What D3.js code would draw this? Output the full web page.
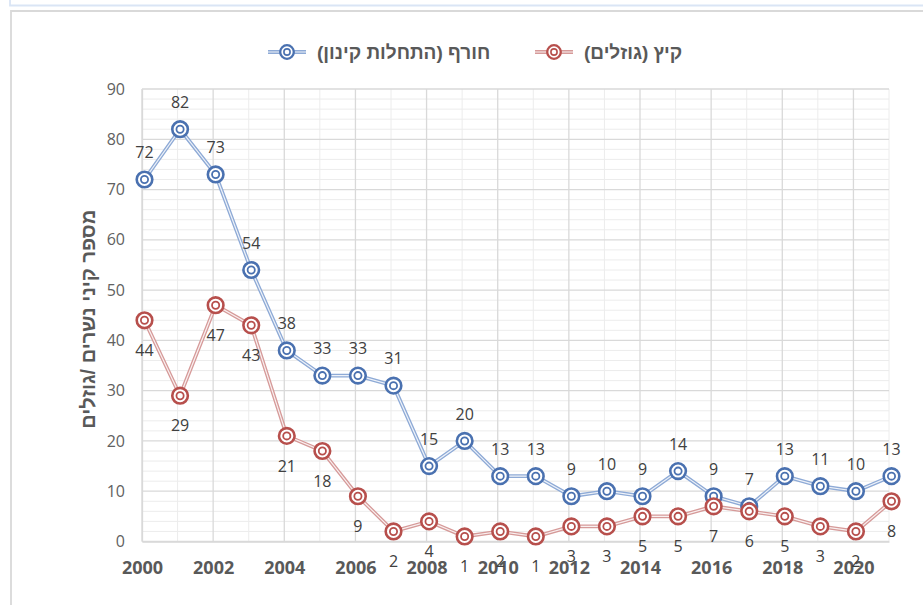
<!DOCTYPE html>
<html>
<head>
<meta charset="utf-8">
<script src="https://cdn.jsdelivr.net/npm/d3@7"></script>
<style>
  body { margin: 0; background: #fff; }
  svg { display: block; }
</style>
</head>
<body>
<div class="container"></div>
<script>
    // years on the x axis
    const years = [2000, 2001, 2002, 2003, 2004, 2005, 2006, 2007, 2008, 2009, 2010,
        2011, 2012, 2013, 2014, 2015, 2016, 2017, 2018, 2019, 2020, 2021]
    // winter (nesting starts)
    const winter = [72, 82, 73, 54, 38, 33, 33, 31, 15, 20, 13, 13, 9, 10, 9, 14, 9, 7, 13, 11, 10, 13]
    // summer (chicks)
    const summer = [44, 29, 47, 43, 21, 18, 9, 2, 4, 1, 2, 1, 3, 3, 5, 5, 7, 6, 5, 3, 2, 8]
    const yTicks = [0, 10, 20, 30, 40, 50, 60, 70, 80, 90]
    const xTicks = [2000, 2002, 2004, 2006, 2008, 2010, 2012, 2014, 2016, 2018, 2020]
    const winterName = "חורף (התחלות קינון)"
    const summerName = "קיץ (גוזלים)"
    const yTitle = "מספר קיני נשרים /גוזלים"

    const width = 923
    const height = 605
    const plot = { left: 142, right: 889, top: 89, bottom: 541.5 }

    const numFont = "'Open Sans', 'DejaVu Sans', sans-serif"
    const hebFont = "'Liberation Sans', 'DejaVu Sans', sans-serif"

    const blue = { ring: "#4a71b0", line: "#8eaad6" }
    const red = { ring: "#b74f4c", line: "#d69a99" }

    let svg = d3.select(".container")
        .append("svg")
        .attr("width", width)
        .attr("height", height)
        .attr("viewBox", [0, 0, width, height])

    // frame bits at the top of the screenshot
    svg.append("path")
        .attr("d", "M10,0 V5.5 H923")
        .attr("fill", "none")
        .attr("stroke", "#dae5f5")
        .attr("stroke-width", 1.8)
    svg.append("path")
        .attr("d", "M11,605 V11 H923")
        .attr("fill", "none")
        .attr("stroke", "#d9d9d9")
        .attr("stroke-width", 1.8)

    let x = d3.scaleLinear()
        .domain([2000, 2021])
        .range([plot.left, plot.right])

    let y = d3.scaleLinear()
        .domain([0, 90])
        .range([plot.bottom, plot.top])

    // grid: minor every 2 units / every odd year, major every 10 / even year
    let grid = svg.append("g")
    grid.selectAll(".hminor")
        .data(d3.range(0, 91, 2).filter(v => v % 10 !== 0))
        .enter().append("line")
        .attr("x1", plot.left).attr("x2", plot.right)
        .attr("y1", d => y(d)).attr("y2", d => y(d))
        .attr("stroke", "#ececec")
    grid.selectAll(".vminor")
        .data(years.filter(d => d % 2 === 1))
        .enter().append("line")
        .attr("x1", d => x(d)).attr("x2", d => x(d))
        .attr("y1", plot.top).attr("y2", plot.bottom)
        .attr("stroke", "#ececec")
    grid.selectAll(".hmajor")
        .data(yTicks)
        .enter().append("line")
        .attr("x1", plot.left).attr("x2", plot.right)
        .attr("y1", d => y(d)).attr("y2", d => y(d))
        .attr("stroke", "#d9d9d9")
        .attr("stroke-width", 1.3)
    grid.selectAll(".vmajor")
        .data(xTicks)
        .enter().append("line")
        .attr("x1", d => x(d)).attr("x2", d => x(d))
        .attr("y1", plot.top).attr("y2", plot.bottom)
        .attr("stroke", "#d9d9d9")
        .attr("stroke-width", 1.3)

    // y axis
    let yAxis = svg.append("g")
        .attr("transform", `translate(${plot.left}, 0)`)
        .call(d3.axisLeft(y).tickValues(yTicks).tickSize(0).tickPadding(17))
    yAxis.select(".domain").attr("stroke", "#d9d9d9").attr("stroke-width", 1.3)
    yAxis.selectAll("text")
        .attr("font-family", numFont)
        .attr("font-size", 16)
        .attr("fill", "#616161")

    // x axis
    let xAxis = svg.append("g")
        .attr("transform", `translate(0, ${plot.bottom})`)
        .call(d3.axisBottom(x).tickValues(xTicks).tickFormat(d3.format("d")).tickSize(0).tickPadding(20))
    xAxis.select(".domain").attr("stroke", "#d9d9d9").attr("stroke-width", 1.3)
    xAxis.selectAll("text")
        .attr("font-family", numFont)
        .attr("font-size", 18)
        .attr("font-weight", "bold")
        .attr("fill", "#595959")

    // y axis title
    svg.append("text")
        .attr("transform", `translate(95, ${(plot.top + plot.bottom) / 2 + 4}) rotate(-90)`)
        .attr("text-anchor", "middle")
        .attr("font-family", hebFont)
        .attr("font-size", 20)
        .attr("font-weight", "bold")
        .attr("fill", "#595959")
        .text(yTitle)

    // a series: double line + bull's-eye markers + value labels
    function drawSeries(values, col, labelDy) {
        let g = svg.append("g").attr("transform", "translate(2.5, 0)")
        let pts = years.map((yr, i) => ({ yr: yr, v: values[i] }))
        let line = d3.line().x(d => x(d.yr)).y(d => y(d.v))
        g.append("path").datum(pts)
            .attr("d", line).attr("fill", "none")
            .attr("stroke", col.line).attr("stroke-width", 3.8)
        g.append("path").datum(pts)
            .attr("d", line).attr("fill", "none")
            .attr("stroke", "#fff").attr("stroke-width", 1.2).attr("opacity", 0.85)
        let m = g.selectAll(".mk").data(pts).enter().append("g")
            .attr("transform", d => `translate(${x(d.yr)}, ${y(d.v)})`)
        m.append("circle").attr("r", 7.8).attr("fill", "#fff")
            .attr("stroke", col.ring).attr("stroke-width", 2.6)
        m.append("circle").attr("r", 3.6).attr("fill", "#fff")
            .attr("stroke", col.ring).attr("stroke-width", 1.8)
        g.selectAll(".lbl").data(pts).enter().append("text")
            .attr("x", d => x(d.yr))
            .attr("y", d => y(d.v) + labelDy)
            .attr("dy", "0.35em")
            .attr("text-anchor", "middle")
            .attr("font-family", numFont)
            .attr("font-size", 16)
            .attr("fill", "#404040")
            .text(d => d.v)
    }

    drawSeries(winter, blue, -27)
    drawSeries(summer, red, 30)

    // legend
    function legendItem(lx, name, col) {
        let g = svg.append("g").attr("transform", `translate(${lx}, 52)`)
        g.append("line").attr("x1", 0).attr("x2", 38)
            .attr("stroke", col.line).attr("stroke-width", 3.8)
        g.append("line").attr("x1", 0).attr("x2", 38)
            .attr("stroke", "#fff").attr("stroke-width", 1.2).attr("opacity", 0.85)
        g.append("circle").attr("cx", 19).attr("r", 6.8).attr("fill", "#fff")
            .attr("stroke", col.ring).attr("stroke-width", 2.3)
        g.append("circle").attr("cx", 19).attr("r", 3.1).attr("fill", "#fff")
            .attr("stroke", col.ring).attr("stroke-width", 1.6)
        g.append("text")
            .attr("x", 49).attr("dy", "0.35em")
            .attr("font-family", hebFont)
            .attr("font-size", 19)
            .attr("font-weight", "bold")
            .attr("fill", "#595959")
            .text(name)
    }
    legendItem(268, winterName, blue)
    legendItem(535, summerName, red)

    svg.node()
</script>
</body>
</html>
